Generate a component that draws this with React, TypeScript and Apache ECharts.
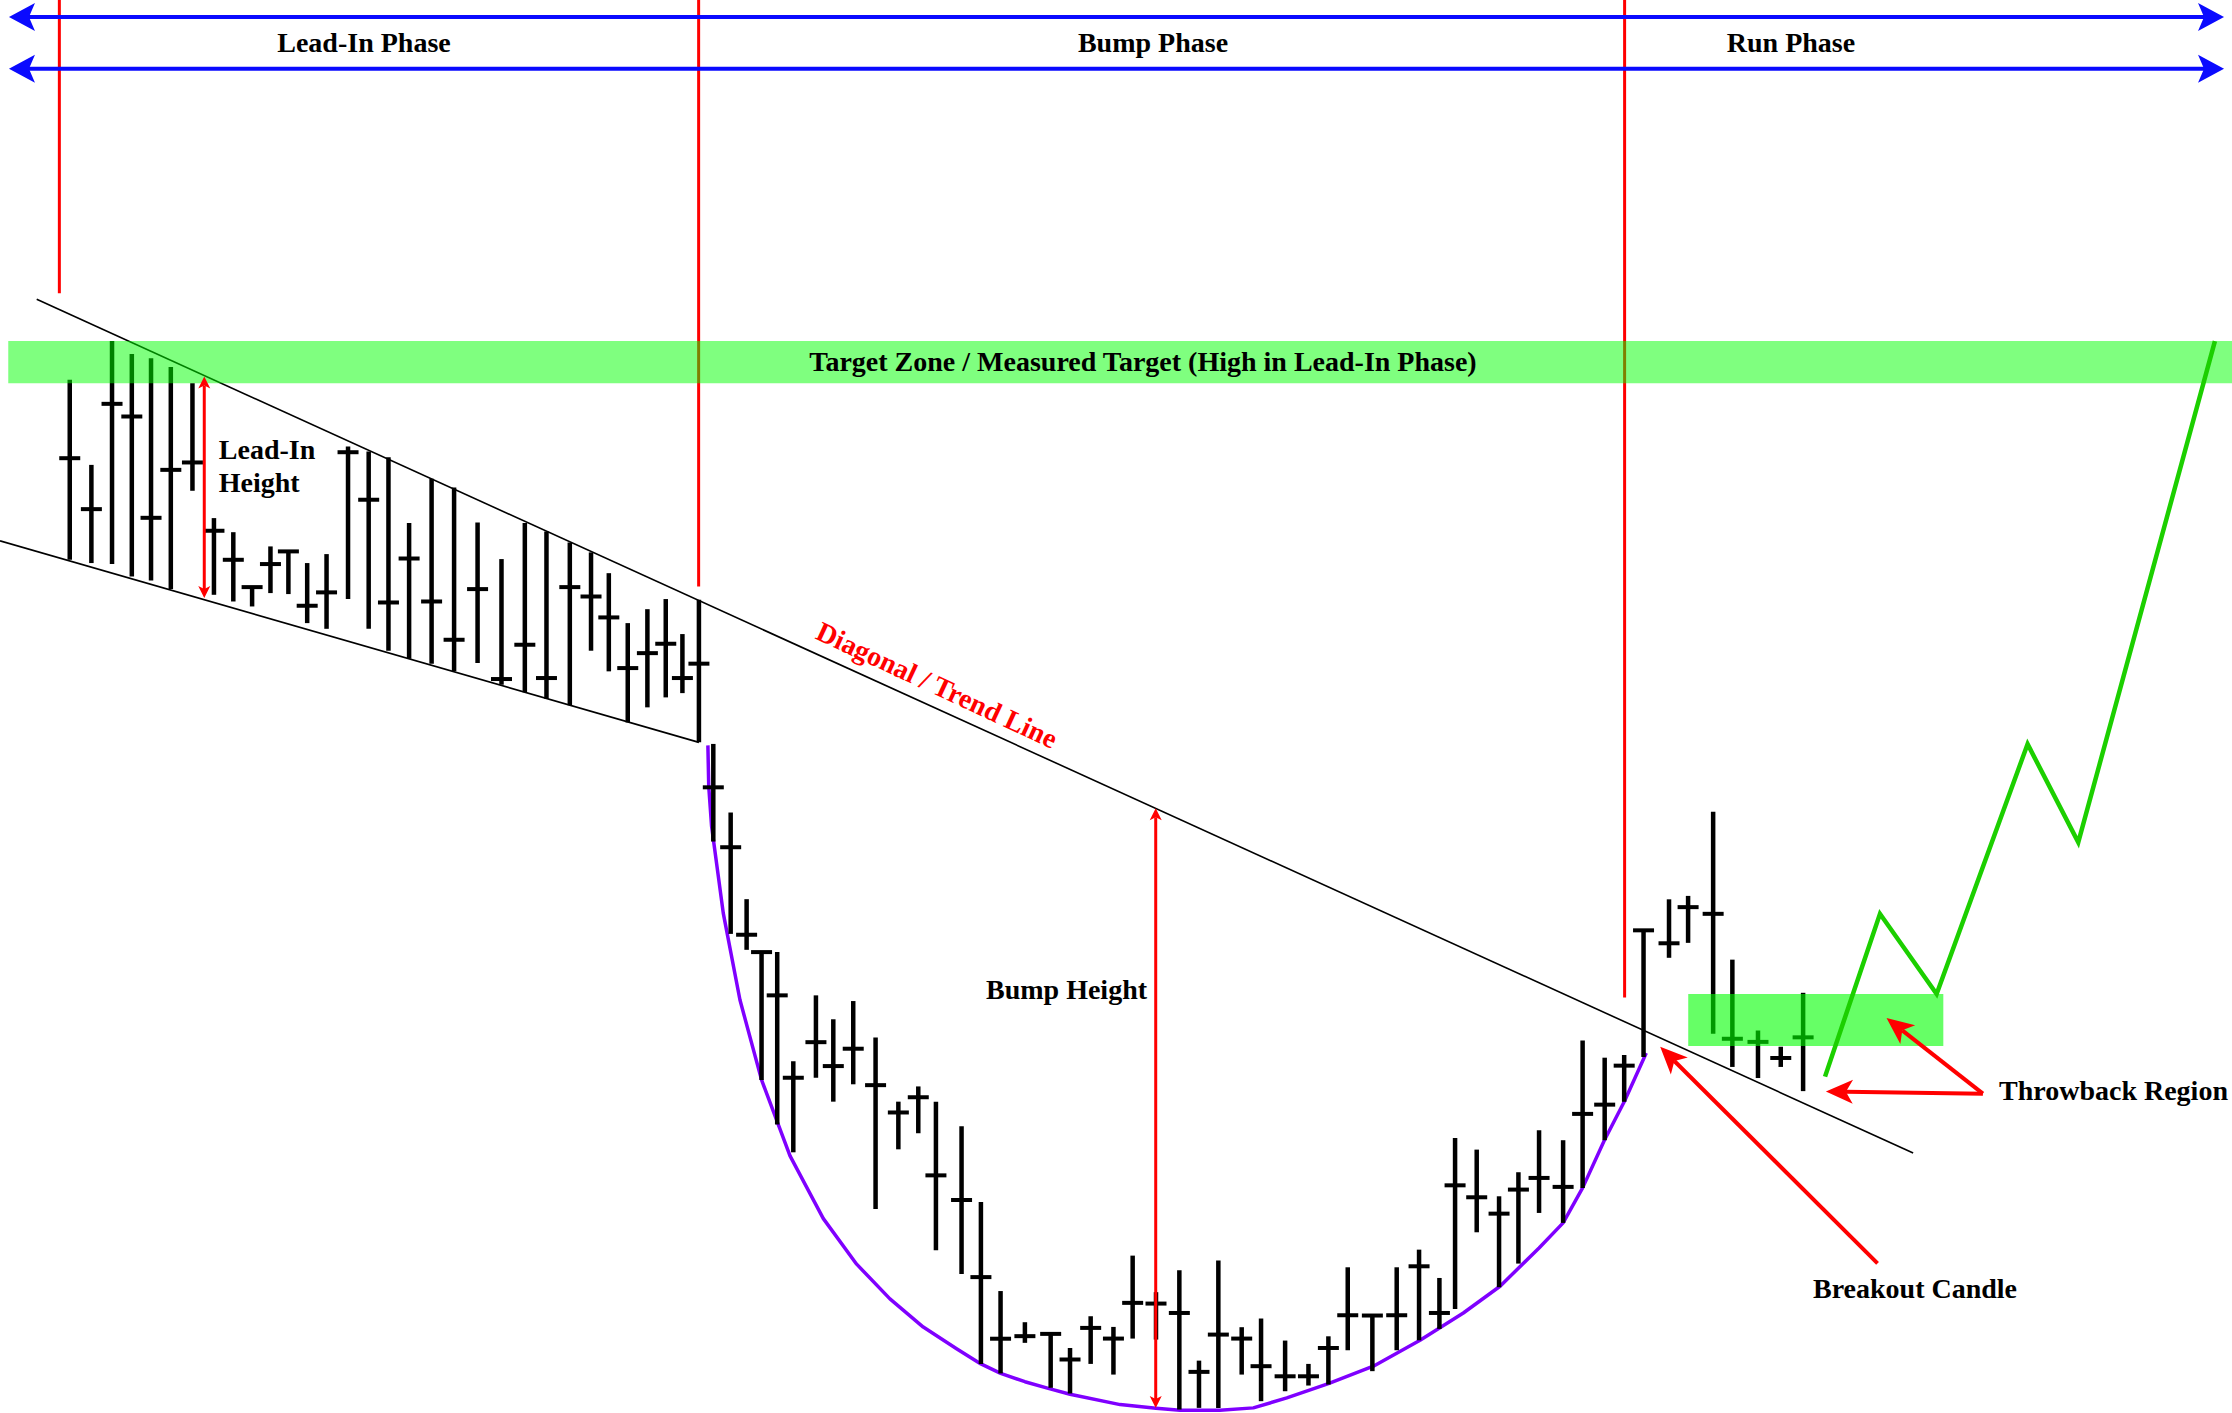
import React, { useEffect, useRef } from "react";
import * as echarts from "echarts";

// x = session position (time units), y = price units
// Lead-In phase OHLC-style bars: [time, high, low, mark]
const leadInBars: number[][] = [
  [49.0, 733.1, 606.6, 678.0],
  [64.2, 673.3, 604.3, 642.2],
  [78.7, 760.4, 603.6, 716.2],
  [92.6, 751.3, 594.9, 707.3],
  [106.1, 748.3, 592.1, 636.1],
  [120.0, 742.0, 586.0, 669.8],
  [135.2, 730.7, 655.1, 675.0],
  [150.3, 635.9, 582.0, 627.0],
  [163.9, 626.0, 577.3, 606.6],
  [177.1, 587.4, 573.8, 587.4],
  [190.0, 616.0, 583.2, 603.6],
  [202.6, 612.5, 582.5, 612.5],
  [215.8, 604.3, 562.1, 574.3],
  [229.4, 610.6, 558.1, 583.7],
  [244.5, 686.2, 579.0, 682.2],
  [259.0, 682.7, 558.1, 648.8],
  [272.9, 678.7, 542.7, 576.6],
  [287.4, 632.4, 537.1, 607.5],
  [303.2, 663.5, 533.6, 577.3],
  [319.0, 657.4, 528.2, 550.4],
  [335.5, 632.8, 534.0, 586.0],
  [352.3, 607.1, 518.8, 522.8],
  [368.7, 632.4, 513.6, 546.9],
  [383.9, 626.5, 509.0, 523.5],
  [400.3, 618.8, 504.3, 587.4],
  [415.2, 611.8, 542.7, 580.8],
  [427.7, 597.2, 528.2, 566.1],
  [441.0, 562.1, 492.3, 530.5],
  [454.8, 571.9, 502.9, 541.0],
  [467.7, 579.0, 509.9, 547.6],
  [479.4, 554.4, 512.9, 523.5],
  [491.0, 578.5, 478.3, 533.6],
];

// Bump phase bars: [time, high, low, mark]
const bumpBars: number[][] = [
  [501.1, 477.2, 408.6, 446.7],
  [513.3, 429.0, 343.7, 404.6],
  [524.5, 368.1, 332.5, 343.1],
  [535.0, 330.9, 241.0, 330.9],
  [546.0, 330.9, 209.7, 300.5],
  [557.3, 254.2, 190.2, 242.6],
  [573.2, 300.5, 242.6, 267.6],
  [585.4, 283.7, 225.8, 250.8],
  [599.4, 296.5, 238.0, 263.0],
  [615.1, 270.9, 150.3, 237.4],
  [631.1, 225.8, 192.3, 218.2],
  [645.1, 236.5, 203.6, 228.9],
  [657.5, 225.8, 121.3, 174.0],
  [675.5, 208.5, 104.6, 156.7],
  [689.1, 155.2, 41.5, 102.5],
  [702.9, 92.7, 34.8, 59.2],
  [720.0, 70.8, 56.3, 61.0],
  [738.1, 62.6, 24.7, 62.6],
  [751.7, 52.7, 20.7, 44.6],
  [766.2, 75.0, 41.5, 66.8],
  [782.2, 67.5, 34.0, 59.3],
  [795.7, 117.6, 59.3, 84.4],
  [812.1, 91.9, 58.6, 83.9],
  [828.5, 107.3, 9.4, 77.3],
  [842.3, 43.8, 10.6, 35.9],
  [855.9, 114.1, 10.6, 62.1],
  [872.3, 67.3, 34.0, 59.3],
  [885.9, 73.4, 15.3, 39.9],
  [902.8, 57.9, 22.3, 32.8],
  [919.2, 41.5, 26.3, 32.8],
  [933.2, 60.9, 27.0, 52.7],
  [946.8, 109.4, 51.1, 75.7],
  [964.1, 75.5, 36.4, 75.5],
  [981.2, 109.4, 51.1, 75.7],
  [996.9, 121.8, 58.1, 110.1],
  [1011.2, 101.9, 66.1, 77.3],
  [1022.2, 200.3, 80.1, 167.0],
  [1037.4, 192.1, 134.0, 158.6],
  [1053.1, 159.3, 95.4, 147.1],
  [1066.7, 176.2, 112.0, 164.0],
  [1081.2, 205.7, 147.6, 172.2],
  [1098.1, 198.7, 140.6, 165.9],
  [1111.8, 268.7, 165.2, 217.2],
  [1127.3, 256.7, 198.7, 223.7],
  [1141.0, 258.6, 225.7, 251.1],
  [1154.6, 346.2, 257.2, 346.2],
];

// Run phase bars: [time, high, low, mark]
const runBars: number[][] = [
  [1172.5, 368.0, 326.9, 337.1],
  [1185.9, 370.4, 337.4, 362.5],
  [1203.5, 429.5, 273.6, 357.8],
  [1217.0, 325.6, 250.2, 270.0],
  [1235.0, 275.8, 242.4, 267.8],
  [1251.0, 264.4, 250.2, 256.5],
  [1266.7, 302.3, 233.2, 271.0],
];

const upperTrend: number[][] = [[25.8, 789.7], [1344.0, 189.7]];
const lowerTrend: number[][] = [[0, 619.9], [491.0, 478.3]];

const bumpCurve: number[][] = [
  [497.3, 476.2], [497.9, 447.4], [499.9, 419.3], [508.1, 358.3], [519.8, 297.4],
  [535.0, 241.1], [555.0, 187.7], [578.4, 143.6], [601.8, 111.6], [625.2, 87.2],
  [648.6, 67.4], [672.0, 52.2], [689.1, 41.5], [703.0, 34.8], [720.0, 29.0],
  [737.7, 24.0], [751.7, 20.2], [786.9, 12.9], [812.1, 10.4], [829.0, 9.0],
  [857.0, 9.0], [880.5, 10.6], [904.0, 17.6], [933.2, 27.7], [964.8, 39.9],
  [997.6, 58.1], [1028.0, 77.3], [1053.8, 96.1], [1081.2, 123.0], [1098.1, 140.6],
  [1111.8, 165.2], [1127.1, 198.7], [1141.2, 226.1], [1156.5, 260.0],
];

const runProjection: number[][] = [
  [1282.1, 243.4], [1320.7, 357.8], [1360.5, 301.5], [1424.4, 477.1], [1460.0, 408.0], [1556.0, 760.3],
];

// [time, top price, bottom price]
const phaseDividers: number[][] = [[41.7, 1000, 793.9], [490.8, 1000, 587.9], [1141.3, 1000, 299.0]];
// [x1, y1, x2, y2]
const phaseSpans: number[][] = [[6.3, 988.0, 1562.4, 988.0], [6.3, 951.7, 1562.4, 951.7]];
const targetZone: number[][] = [[5.8, 760.4, 1568.0, 730.7]];
const throwbackZone: number[][] = [[1186.0, 301.5, 1365.2, 265.0]];
const heightArrows: number[][] = [[143.5, 735.4, 143.5, 579.7], [811.9, 432.0, 811.9, 10.6]];
const calloutArrows: number[][] = [
  [1319.0, 112.2, 1166.3, 264.3],
  [1393.0, 231.4, 1282.7, 233.0],
  [1393.0, 231.4, 1325.3, 284.6],
];

const phaseLabels = ["Lead-In Phase", "Bump Phase", "Run Phase"];
const targetLabel = "Target Zone / Measured Target (High in Lead-In Phase)";
const leadInLabel = ["Lead-In", "Height"];
const bumpLabel = "Bump Height";
const trendLabel = "Diagonal / Trend Line";
const throwbackLabel = "Throwback Region";
const breakoutLabel = "Breakout Candle";

function headPoints(tip: number[], d: number[], L: number, W: number, N: number) {
  const nx = -d[1];
  const ny = d[0];
  const bx = tip[0] - d[0] * L;
  const by = tip[1] - d[1] * L;
  return [
    [tip[0], tip[1]],
    [bx + nx * W, by + ny * W],
    [tip[0] - d[0] * (L - N), tip[1] - d[1] * (L - N)],
    [bx - nx * W, by - ny * W],
  ];
}

function arrowRenderer(both: boolean, L: number, W: number, N: number, color: string, lw: number) {
  return (params: any, api: any) => {
    const a = api.coord([api.value(0), api.value(1)]);
    const b = api.coord([api.value(2), api.value(3)]);
    const len = Math.hypot(b[0] - a[0], b[1] - a[1]) || 1;
    const d = [(b[0] - a[0]) / len, (b[1] - a[1]) / len];
    const end = [b[0] - d[0] * (L - N), b[1] - d[1] * (L - N)];
    const start = both ? [a[0] + d[0] * (L - N), a[1] + d[1] * (L - N)] : a;
    const children: any[] = [
      {
        type: "line",
        shape: { x1: start[0], y1: start[1], x2: end[0], y2: end[1] },
        style: { stroke: color, lineWidth: lw },
      },
      { type: "polygon", shape: { points: headPoints(b, d, L, W, N) }, style: { fill: color } },
    ];
    if (both) {
      children.push({
        type: "polygon",
        shape: { points: headPoints(a, [-d[0], -d[1]], L, W, N) },
        style: { fill: color },
      });
    }
    return { type: "group", children };
  };
}

function rectRenderer(fill: string) {
  return (params: any, api: any) => {
    const p1 = api.coord([api.value(0), api.value(1)]);
    const p2 = api.coord([api.value(2), api.value(3)]);
    return {
      type: "rect",
      shape: { x: p1[0], y: p1[1], width: p2[0] - p1[0], height: p2[1] - p1[1] },
      style: { fill },
    };
  };
}

function barRenderer(params: any, api: any) {
  const x = api.value(0);
  const hi = api.coord([x, api.value(1)]);
  const lo = api.coord([x, api.value(2)]);
  const mk = api.coord([x, api.value(3)]);
  return {
    type: "group",
    children: [
      { type: "line", shape: { x1: hi[0], y1: hi[1], x2: lo[0], y2: lo[1] }, style: { stroke: "#000", lineWidth: 4.5 } },
      { type: "line", shape: { x1: mk[0] - 10.5, y1: mk[1], x2: mk[0] + 10.5, y2: mk[1] }, style: { stroke: "#000", lineWidth: 4 } },
    ],
  };
}

function dividerRenderer(params: any, api: any) {
  const x = api.value(0);
  const t = api.coord([x, api.value(1)]);
  const b = api.coord([x, api.value(2)]);
  return { type: "line", shape: { x1: t[0], y1: t[1], x2: b[0], y2: b[1] }, style: { stroke: "#ff0000", lineWidth: 3 } };
}

const FONT = "'Liberation Serif', 'Times New Roman', serif";

function txt(text: string, x: number, y: number, align: string, color = "#000", rotation = 0) {
  return {
    type: "text",
    x,
    y,
    rotation,
    z: 100,
    silent: true,
    style: {
      text,
      fill: color,
      fontSize: 28,
      fontWeight: "bold",
      fontFamily: FONT,
      align,
      verticalAlign: "middle",
      textAlign: align,
      textVerticalAlign: "middle",
    },
  };
}

export default function App() {
  const ref = useRef<HTMLDivElement>(null);

  useEffect(() => {
    if (!ref.current) return;
    const chart = echarts.init(ref.current, undefined, { renderer: "svg" });
    const option: any = {
      animation: false,
      backgroundColor: "#ffffff",
      grid: { left: 0, right: 0, top: 0, bottom: 0, containLabel: false },
      xAxis: { type: "value", min: 0, max: 1568, show: false },
      yAxis: { type: "value", min: 7, max: 1000, show: false },
      series: [
        { type: "custom", name: "dividers", data: phaseDividers, renderItem: dividerRenderer, encode: { x: 0, y: [1, 2] }, z: 1, silent: true },
        { type: "line", name: "upper trend", data: upperTrend, symbol: "none", lineStyle: { color: "#000", width: 1.6 }, z: 2, silent: true },
        { type: "line", name: "lower trend", data: lowerTrend, symbol: "none", lineStyle: { color: "#000", width: 1.6 }, z: 2, silent: true },
        { type: "line", name: "bump curve", data: bumpCurve, symbol: "none", smooth: false, lineStyle: { color: "#7f00ff", width: 3.5, join: "round" }, z: 3, silent: true },
        { type: "custom", name: "lead-in", data: leadInBars, renderItem: barRenderer, encode: { x: 0, y: [1, 2, 3] }, z: 4, silent: true },
        { type: "custom", name: "bump", data: bumpBars, renderItem: barRenderer, encode: { x: 0, y: [1, 2, 3] }, z: 4, silent: true },
        { type: "custom", name: "run", data: runBars, renderItem: barRenderer, encode: { x: 0, y: [1, 2, 3] }, z: 4, silent: true },
        { type: "custom", name: "target zone", data: targetZone, renderItem: rectRenderer("rgba(0,255,0,0.5)"), encode: { x: [0, 2], y: [1, 3] }, z: 6, silent: true },
        { type: "custom", name: "throwback zone", data: throwbackZone, renderItem: rectRenderer("rgba(0,255,0,0.6)"), encode: { x: [0, 2], y: [1, 3] }, z: 6, silent: true },
        { type: "line", name: "run projection", data: runProjection, symbol: "none", lineStyle: { color: "#1ccf00", width: 4.5, join: "miter" }, z: 7, silent: true },
        { type: "custom", name: "phase spans", data: phaseSpans, renderItem: arrowRenderer(true, 26, 14, 6, "#0a0aff", 4), encode: { x: [0, 2], y: [1, 3] }, z: 8, silent: true },
        { type: "custom", name: "heights", data: heightArrows, renderItem: arrowRenderer(true, 12, 6, 3, "#ff0000", 3), encode: { x: [0, 2], y: [1, 3] }, z: 8, silent: true },
        { type: "custom", name: "callouts", data: calloutArrows, renderItem: arrowRenderer(false, 27, 12, 7, "#ff0000", 4), encode: { x: [0, 2], y: [1, 3] }, z: 8, silent: true },
      ],
      graphic: [
        txt(phaseLabels[0], 364, 42.5, "center"),
        txt(phaseLabels[1], 1153, 42.5, "center"),
        txt(phaseLabels[2], 1791, 42.5, "center"),
        txt(targetLabel, 1143, 361.5, "center"),
        txt(leadInLabel[0], 218.8, 449, "left"),
        txt(leadInLabel[1], 218.8, 482.5, "left"),
        txt(bumpLabel, 986, 989.5, "left"),
        txt(trendLabel, 937, 685, "center", "#ff0000", -0.436),
        txt(throwbackLabel, 1999, 1090, "left"),
        txt(breakoutLabel, 1915, 1288.5, "center"),
      ],
    };
    chart.setOption(option);
    return () => chart.dispose();
  }, []);

  return (
    <div
      ref={ref}
      style={{ position: "absolute", left: 0, top: 0, width: 2232, height: 1413, background: "#fff" }}
    />
  );
}
